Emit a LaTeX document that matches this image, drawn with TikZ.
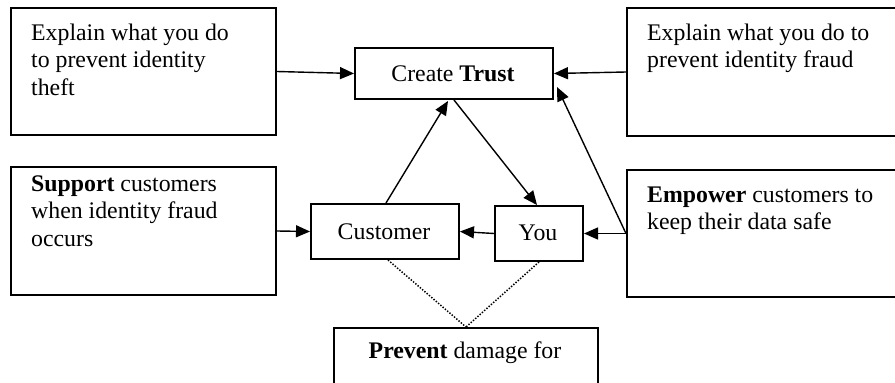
\documentclass[tikz,border=0pt]{standalone}
\usepackage{fontspec}
\setmainfont{Liberation Serif}
\usetikzlibrary{arrows.meta,calc}
\tikzset{
  box/.style={draw=black, line width=2pt, inner sep=0pt, anchor=north west},
  txt/.style={inner sep=0pt, anchor=base west, align=left, font=\fontsize{23.8}{27.6}\selectfont},
  ctxt/.style={inner sep=0pt, anchor=base, font=\fontsize{23.8}{27.6}\selectfont},
  arr/.style={line width=1.4pt, -{Triangle[length=14pt,width=12pt]}},
  dots/.style={line width=1.5pt, dash pattern=on 1.4pt off 1.6pt}
}
\begin{document}
\begin{tikzpicture}[x=1pt,y=-1pt]
\useasboundingbox (0,0) rectangle (895,383);
\clip (0,0) rectangle (895,383);
\fill[white] (0,0) rectangle (895,383);
% boxes
\node[box, minimum width=265pt, minimum height=127pt] (tl) at (10,7) {};
\node[box, minimum width=285pt, minimum height=128pt] (tr) at (626,7) {};
\node[box, minimum width=265pt, minimum height=128pt] (sup) at (10,166) {};
\node[box, minimum width=285pt, minimum height=127pt] (emp) at (626,169) {};
\node[box, minimum width=198pt, minimum height=51pt] (trust) at (354,47) {};
\node[box, minimum width=148pt, minimum height=55pt] (cust) at (310,203) {};
\node[box, minimum width=88pt, minimum height=55pt] (you) at (494,205) {};
\node[box, minimum width=264pt, minimum height=80pt] (prev) at (333,327) {};
% texts (anchor is the baseline of the last line)
\node[txt] (tltxt) at (31,95.5) {Explain what you do\\to prevent identity\\theft};
\node[txt] (trtxt) at (647,67.8) {Explain what you do to\\prevent identity fraud};
\node[txt] (suptxt) at (31,246.5) {\textbf{Support} customers\\when identity fraud\\occurs};
\node[txt] (emptxt) at (647,229.8) {\textbf{Empower} customers to\\keep their data safe};
\node[ctxt] (trusttxt) at (453,81) {Create \textbf{Trust}};
\node[ctxt] (custtxt) at (384,239) {Customer};
\node[ctxt] (youtxt) at (538,240) {You};
\node[ctxt] (prevtxt) at (465,358) {\textbf{Prevent} damage for};
% connectors
\draw[arr] (tl.east) -- (trust.west);
\draw[arr] (tr.west) -- (trust.east);
\draw[arr] ($(cust.north)+(1,0)$) -- ($(trust.south)+(-6,1)$);
\draw[arr] ($(trust.south)+(0,0)$) -- ($(you.north)+(-2,0)$);
\draw[arr] (emp.west) -- (you.east);
\draw[arr] (emp.west) -- ($(trust.south east)+(3,-13)$);
\draw[arr] (you.west) -- (cust.east);
\draw[arr] (sup.east) -- (cust.west);
\draw[dots] ($(cust.south)+(3,0)$) -- (prev.north);
\draw[dots] (you.south) -- (prev.north);
\end{tikzpicture}
\end{document}
